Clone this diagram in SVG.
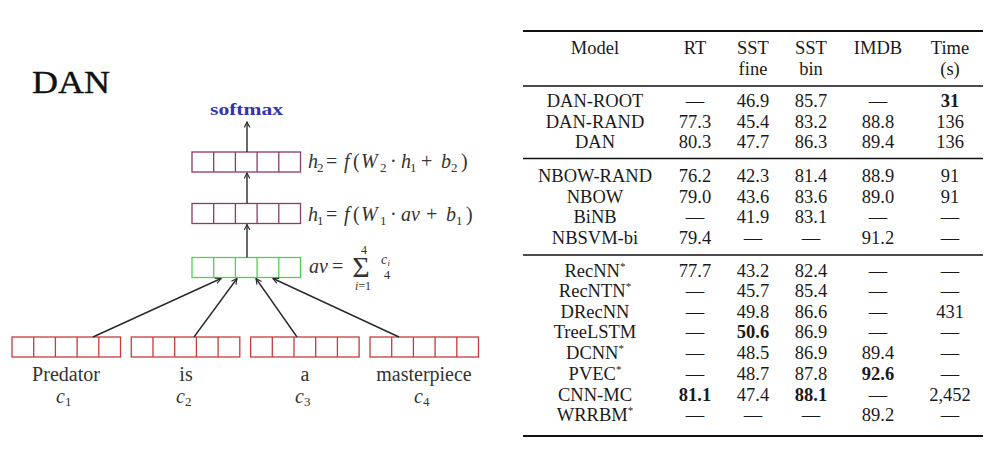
<svg xmlns="http://www.w3.org/2000/svg" width="1003" height="458" viewBox="0 0 1003 458">
<style>
.bg{fill:#ffffff}
.cell{fill:none;stroke-width:1.3}
.pur{stroke:#8b3a6b}
.grn{stroke:#4cd44c}
.red{stroke:#c93a3a}
.conn{stroke:#2a2a2a;stroke-width:1.4;fill:none}
.m{font-family:"Liberation Serif",serif;font-size:20px;fill:#333}
.it{font-style:italic}
.sub{font-size:13px}
.sm{font-size:12px}
.w{font-family:"Liberation Serif",serif;font-size:20px;fill:#333;text-anchor:middle}
.t{font-family:"Liberation Serif",serif;font-size:18.5px;fill:#1a1a1a;text-anchor:middle}
.b{font-weight:bold}
.sup{font-size:11px}
.rule{stroke:#111;stroke-width:1.3}
.thick{stroke:#111;stroke-width:2.2}
</style>
<defs>
<marker id="ah" viewBox="0 0 10 10" refX="9" refY="5" markerWidth="7" markerHeight="7" orient="auto" markerUnits="userSpaceOnUse">
<path d="M1,1 L9,5 L1,9" fill="none" stroke="#2a2a2a" stroke-width="1.6"/>
</marker>
<g id="row5">
<rect class="cell" x="0" y="0" width="108.5" height="20"/>
<line x1="21.7" y1="0" x2="21.7" y2="20"/>
<line x1="43.4" y1="0" x2="43.4" y2="20"/>
<line x1="65.1" y1="0" x2="65.1" y2="20"/>
<line x1="86.8" y1="0" x2="86.8" y2="20"/>
</g>
</defs>
<rect class="bg" x="0" y="0" width="1003" height="458"/>

<text x="32" y="93" font-family="Liberation Serif, serif" font-size="32" fill="#111" stroke="#111" stroke-width="0.4" textLength="78" lengthAdjust="spacingAndGlyphs">DAN</text>

<g id="softmax">
<text x="210" y="115" font-family="Liberation Serif, serif" font-size="17" font-weight="bold" fill="#3333b0" textLength="73" lengthAdjust="spacingAndGlyphs">softmax</text>
</g>

<g id="h2">
<g class="pur" stroke-width="1.3" transform="translate(192,152)"><use href="#row5"/></g>
<text class="m" y="168"><tspan class="it" x="308">h</tspan><tspan class="sub" x="317" y="172">2</tspan><tspan x="326" y="168">=</tspan><tspan class="it" x="344">f</tspan><tspan x="353">(</tspan><tspan class="it" x="361">W</tspan><tspan class="sub" x="380" y="172">2</tspan><tspan x="390" y="168">·</tspan><tspan class="it" x="401">h</tspan><tspan class="sub" x="410" y="172">1</tspan><tspan x="421" y="168">+</tspan><tspan class="it" x="441">b</tspan><tspan class="sub" x="451" y="172">2</tspan><tspan x="461" y="168">)</tspan></text>
</g>

<g id="h1">
<g class="pur" stroke-width="1.3" transform="translate(192,203.5)"><use href="#row5"/></g>
<text class="m" y="220.5"><tspan class="it" x="308">h</tspan><tspan class="sub" x="317" y="224.5">1</tspan><tspan x="326" y="220.5">=</tspan><tspan class="it" x="344">f</tspan><tspan x="353">(</tspan><tspan class="it" x="361">W</tspan><tspan class="sub" x="380" y="224.5">1</tspan><tspan x="390" y="220.5">·</tspan><tspan class="it" x="401">av</tspan><tspan x="426">+</tspan><tspan class="it" x="446">b</tspan><tspan class="sub" x="456" y="224.5">1</tspan><tspan x="466" y="220.5">)</tspan></text>
</g>

<g id="av">
<g class="grn" stroke-width="1.3" transform="translate(192,257.5)"><use href="#row5"/></g>
<text class="m" y="272.5"><tspan class="it" x="309">av</tspan><tspan x="332">=</tspan></text>
<text class="m" x="361" y="277" text-anchor="middle" style="font-size:30px">Σ</text>
<text class="m sm" x="364" y="254" text-anchor="middle">4</text>
<text class="m sm" x="363" y="290" text-anchor="middle"><tspan class="it">i</tspan>=1</text>
<text class="m" y="264" style="font-size:14px"><tspan class="it" x="381">c</tspan><tspan x="387.5" y="266" style="font-size:9px" class="it">i</tspan></text>
<text class="m" x="387" y="279" text-anchor="middle" style="font-size:13px">4</text>
</g>

<g id="word1">
<g class="red" stroke-width="1.3" transform="translate(12,337)"><use href="#row5"/></g>
<text class="w" x="66" y="381">Predator</text>
<text class="m" y="403"><tspan class="it" x="56">c</tspan><tspan class="sub" x="65" y="406">1</tspan></text>
</g>
<g id="word2">
<g class="red" stroke-width="1.3" transform="translate(131.3,337)"><use href="#row5"/></g>
<text class="w" x="186" y="381">is</text>
<text class="m" y="403"><tspan class="it" x="176">c</tspan><tspan class="sub" x="185" y="406">2</tspan></text>
</g>
<g id="word3">
<g class="red" stroke-width="1.3" transform="translate(250.6,337)"><use href="#row5"/></g>
<text class="w" x="305" y="381">a</text>
<text class="m" y="403"><tspan class="it" x="295">c</tspan><tspan class="sub" x="304" y="406">3</tspan></text>
</g>
<g id="word4">
<g class="red" stroke-width="1.3" transform="translate(370,337)"><use href="#row5"/></g>
<text class="w" x="424" y="381">masterpiece</text>
<text class="m" y="403"><tspan class="it" x="414">c</tspan><tspan class="sub" x="423" y="406">4</tspan></text>
</g>

<g id="connectors">
<line class="conn" x1="247" y1="152" x2="247" y2="122" marker-end="url(#ah)"/>
<line class="conn" x1="247" y1="203.5" x2="247" y2="173" marker-end="url(#ah)"/>
<line class="conn" x1="247" y1="257.5" x2="247" y2="224.5" marker-end="url(#ah)"/>
<line class="conn" x1="93" y1="337" x2="221" y2="278.5" marker-end="url(#ah)"/>
<line class="conn" x1="194" y1="337" x2="237" y2="278.5" marker-end="url(#ah)"/>
<line class="conn" x1="297" y1="337" x2="256" y2="278.5" marker-end="url(#ah)"/>
<line class="conn" x1="399" y1="337" x2="273" y2="278.5" marker-end="url(#ah)"/>
</g>

<g id="table">
<line class="thick" x1="523" y1="31" x2="983" y2="31"/>
<line class="rule" x1="523" y1="86" x2="983" y2="86"/>
<line class="rule" x1="523" y1="158.5" x2="983" y2="158.5"/>
<line class="rule" x1="523" y1="255" x2="983" y2="255"/>
<line class="thick" x1="523" y1="436" x2="983" y2="436"/>

<text class="t" x="595" y="54">Model</text>
<text class="t" x="695" y="54">RT</text>
<text class="t" x="753" y="54">SST</text>
<text class="t" x="753" y="75">fine</text>
<text class="t" x="811" y="54">SST</text>
<text class="t" x="811" y="75">bin</text>
<text class="t" x="878" y="54">IMDB</text>
<text class="t" x="950" y="54">Time</text>
<text class="t" x="950" y="75">(s)</text>

<g id="r1"><text class="t" x="595" y="107">DAN-ROOT</text><text class="t" x="695" y="107">—</text><text class="t" x="753" y="107">46.9</text><text class="t" x="811" y="107">85.7</text><text class="t" x="878" y="107">—</text><text class="t b" x="950" y="107">31</text></g>
<g id="r2"><text class="t" x="595" y="127.5">DAN-RAND</text><text class="t" x="695" y="127.5">77.3</text><text class="t" x="753" y="127.5">45.4</text><text class="t" x="811" y="127.5">83.2</text><text class="t" x="878" y="127.5">88.8</text><text class="t" x="950" y="127.5">136</text></g>
<g id="r3"><text class="t" x="595" y="148">DAN</text><text class="t" x="695" y="148">80.3</text><text class="t" x="753" y="148">47.7</text><text class="t" x="811" y="148">86.3</text><text class="t" x="878" y="148">89.4</text><text class="t" x="950" y="148">136</text></g>

<g id="r4"><text class="t" x="595" y="182">NBOW-RAND</text><text class="t" x="695" y="182">76.2</text><text class="t" x="753" y="182">42.3</text><text class="t" x="811" y="182">81.4</text><text class="t" x="878" y="182">88.9</text><text class="t" x="950" y="182">91</text></g>
<g id="r5"><text class="t" x="595" y="202.5">NBOW</text><text class="t" x="695" y="202.5">79.0</text><text class="t" x="753" y="202.5">43.6</text><text class="t" x="811" y="202.5">83.6</text><text class="t" x="878" y="202.5">89.0</text><text class="t" x="950" y="202.5">91</text></g>
<g id="r6"><text class="t" x="595" y="223">BiNB</text><text class="t" x="695" y="223">—</text><text class="t" x="753" y="223">41.9</text><text class="t" x="811" y="223">83.1</text><text class="t" x="878" y="223">—</text><text class="t" x="950" y="223">—</text></g>
<g id="r7"><text class="t" x="595" y="243.5">NBSVM-bi</text><text class="t" x="695" y="243.5">79.4</text><text class="t" x="753" y="243.5">—</text><text class="t" x="811" y="243.5">—</text><text class="t" x="878" y="243.5">91.2</text><text class="t" x="950" y="243.5">—</text></g>

<g id="r8"><text class="t" x="595" y="276.5">RecNN<tspan class="sup" dy="-7">*</tspan></text><text class="t" x="695" y="276.5">77.7</text><text class="t" x="753" y="276.5">43.2</text><text class="t" x="811" y="276.5">82.4</text><text class="t" x="878" y="276.5">—</text><text class="t" x="950" y="276.5">—</text></g>
<g id="r9"><text class="t" x="595" y="297">RecNTN<tspan class="sup" dy="-7">*</tspan></text><text class="t" x="695" y="297">—</text><text class="t" x="753" y="297">45.7</text><text class="t" x="811" y="297">85.4</text><text class="t" x="878" y="297">—</text><text class="t" x="950" y="297">—</text></g>
<g id="r10"><text class="t" x="595" y="317.5">DRecNN</text><text class="t" x="695" y="317.5">—</text><text class="t" x="753" y="317.5">49.8</text><text class="t" x="811" y="317.5">86.6</text><text class="t" x="878" y="317.5">—</text><text class="t" x="950" y="317.5">431</text></g>
<g id="r11"><text class="t" x="595" y="338">TreeLSTM</text><text class="t" x="695" y="338">—</text><text class="t b" x="753" y="338">50.6</text><text class="t" x="811" y="338">86.9</text><text class="t" x="878" y="338">—</text><text class="t" x="950" y="338">—</text></g>
<g id="r12"><text class="t" x="595" y="359">DCNN<tspan class="sup" dy="-7">*</tspan></text><text class="t" x="695" y="359">—</text><text class="t" x="753" y="359">48.5</text><text class="t" x="811" y="359">86.9</text><text class="t" x="878" y="359">89.4</text><text class="t" x="950" y="359">—</text></g>
<g id="r13"><text class="t" x="595" y="380">PVEC<tspan class="sup" dy="-7">*</tspan></text><text class="t" x="695" y="380">—</text><text class="t" x="753" y="380">48.7</text><text class="t" x="811" y="380">87.8</text><text class="t b" x="878" y="380">92.6</text><text class="t" x="950" y="380">—</text></g>
<g id="r14"><text class="t" x="595" y="400.5">CNN-MC</text><text class="t b" x="695" y="400.5">81.1</text><text class="t" x="753" y="400.5">47.4</text><text class="t b" x="811" y="400.5">88.1</text><text class="t" x="878" y="400.5">—</text><text class="t" x="950" y="400.5">2,452</text></g>
<g id="r15"><text class="t" x="595" y="421">WRRBM<tspan class="sup" dy="-7">*</tspan></text><text class="t" x="695" y="421">—</text><text class="t" x="753" y="421">—</text><text class="t" x="811" y="421">—</text><text class="t" x="878" y="421">89.2</text><text class="t" x="950" y="421">—</text></g>
</g>
</svg>
